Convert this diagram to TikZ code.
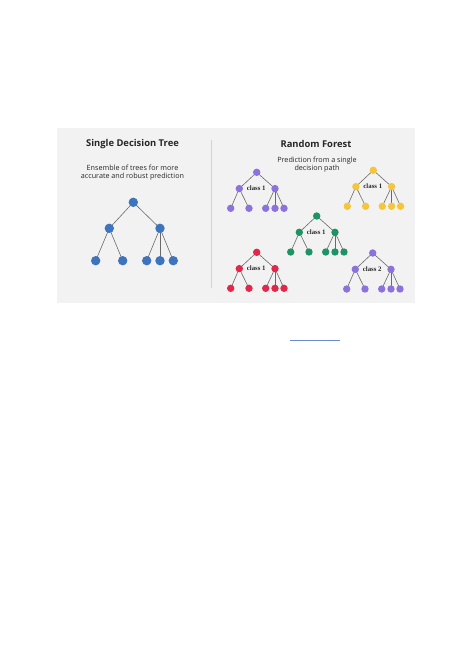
\documentclass[tikz,border=0pt]{standalone}
\usepackage{fontspec}
\setmainfont{Open Sans}
\newfontfamily\lblfont{Liberation Serif}
\definecolor{panelbg}{HTML}{F2F2F2}
\definecolor{divider}{HTML}{D2D2D2}
\definecolor{edgegray}{HTML}{6A6A6A}
\definecolor{treeblue}{HTML}{3E74BE}
\definecolor{treepurple}{HTML}{8B73DB}
\definecolor{treeyellow}{HTML}{F5C53A}
\definecolor{treegreen}{HTML}{1E9466}
\definecolor{treered}{HTML}{E0284B}
\definecolor{linkblue}{HTML}{6A8CC8}
\usetikzlibrary{backgrounds}
\pgfdeclarelayer{panel}
\pgfsetlayers{panel,background,main}
\tikzset{
  bigdot/.style={circle, inner sep=0pt, minimum size=9.4pt, fill=treeblue},
  smalldot/.style={circle, inner sep=0pt, minimum size=7.4pt},
  branch/.style={draw=edgegray, line width=0.6pt},
  ttl/.style={font=\bfseries\fontsize{9.4}{10}\selectfont, text=black!85},
  sub/.style={font=\fontsize{7.2}{8}\selectfont, text=black!85, align=center},
  subtight/.style={font=\fontsize{7.2}{6.2}\selectfont, text=black!85, align=center},
  cls/.style={font=\lblfont\bfseries\fontsize{6.8}{7}\selectfont, text=black!85, inner sep=0pt}
}
\newcommand{\smalltree}[5]{%
  \begin{scope}[shift={(#2,#3)}]
    \node[smalldot, fill=#4] (#1r) at (0,0) {};
    \node[smalldot, fill=#4] (#1a) at (-17.4,16.3) {};
    \node[smalldot, fill=#4] (#1b) at (18.3,16.3) {};
    \node[smalldot, fill=#4] (#1a1) at (-26,36) {};
    \node[smalldot, fill=#4] (#1a2) at (-7.7,36) {};
    \node[smalldot, fill=#4] (#1b1) at (9,36) {};
    \node[smalldot, fill=#4] (#1b2) at (18.3,36) {};
    \node[smalldot, fill=#4] (#1b3) at (27.3,36) {};
    \node[cls] (#1lbl) at (-0.5,16.3) {#5};
    \begin{scope}[on background layer]
      \draw[branch] (#1r.center) -- (#1a.center);
      \draw[branch] (#1r.center) -- (#1b.center);
      \draw[branch] (#1a.center) -- (#1a1.center);
      \draw[branch] (#1a.center) -- (#1a2.center);
      \draw[branch] (#1b.center) -- (#1b1.center);
      \draw[branch] (#1b.center) -- (#1b2.center);
      \draw[branch] (#1b.center) -- (#1b3.center);
    \end{scope}
  \end{scope}}
\begin{document}
\begin{tikzpicture}[x=1pt,y=-1pt]
\useasboundingbox (0,0) rectangle (474,670);
\begin{pgfonlayer}{panel}
  \fill[white] (0,0) rectangle (474,670);
  \fill[panelbg] (57,128) rectangle (415,303);
  \draw[divider, line width=0.8pt] (211,140) -- (211,288);
\end{pgfonlayer}
% left panel
\node[ttl] (ttlA) at (132.5,144) {Single Decision Tree};
\node[sub] (subA) at (132.5,172.2) {Ensemble of trees for more\\accurate and robust prediction};
\node[bigdot] (sr) at (133.3,202.3) {};
\node[bigdot] (sa) at (109.3,228.3) {};
\node[bigdot] (sb) at (160,228.3) {};
\node[bigdot] (sa1) at (95.7,260.7) {};
\node[bigdot] (sa2) at (122.7,260.7) {};
\node[bigdot] (sb1) at (146.7,260.7) {};
\node[bigdot] (sb2) at (160,260.7) {};
\node[bigdot] (sb3) at (173.3,260.7) {};
\begin{scope}[on background layer]
  \draw[branch] (sr.center) -- (sa.center);
  \draw[branch] (sr.center) -- (sb.center);
  \draw[branch] (sa.center) -- (sa1.center);
  \draw[branch] (sa.center) -- (sa2.center);
  \draw[branch] (sb.center) -- (sb1.center);
  \draw[branch] (sb.center) -- (sb2.center);
  \draw[branch] (sb.center) -- (sb3.center);
\end{scope}
% right panel
\node[ttl] (ttlB) at (316,144) {Random Forest};
\node[subtight] (subB) at (317,165) {Prediction from a single\\decision path};
\smalltree{p}{256.7}{172.3}{treepurple}{class 1}
\smalltree{y}{373.3}{170.3}{treeyellow}{class 1}
\smalltree{g}{316.7}{216}{treegreen}{class 1}
\smalltree{r}{256.7}{252.3}{treered}{class 1}
\smalltree{q}{372.7}{253}{treepurple}{class 2}
% link underline
\coordinate (lk1) at (290,340);
\coordinate (lk2) at (340,340);
\draw[linkblue, line width=0.8pt] (lk1) -- (lk2);
\end{tikzpicture}
\end{document}
